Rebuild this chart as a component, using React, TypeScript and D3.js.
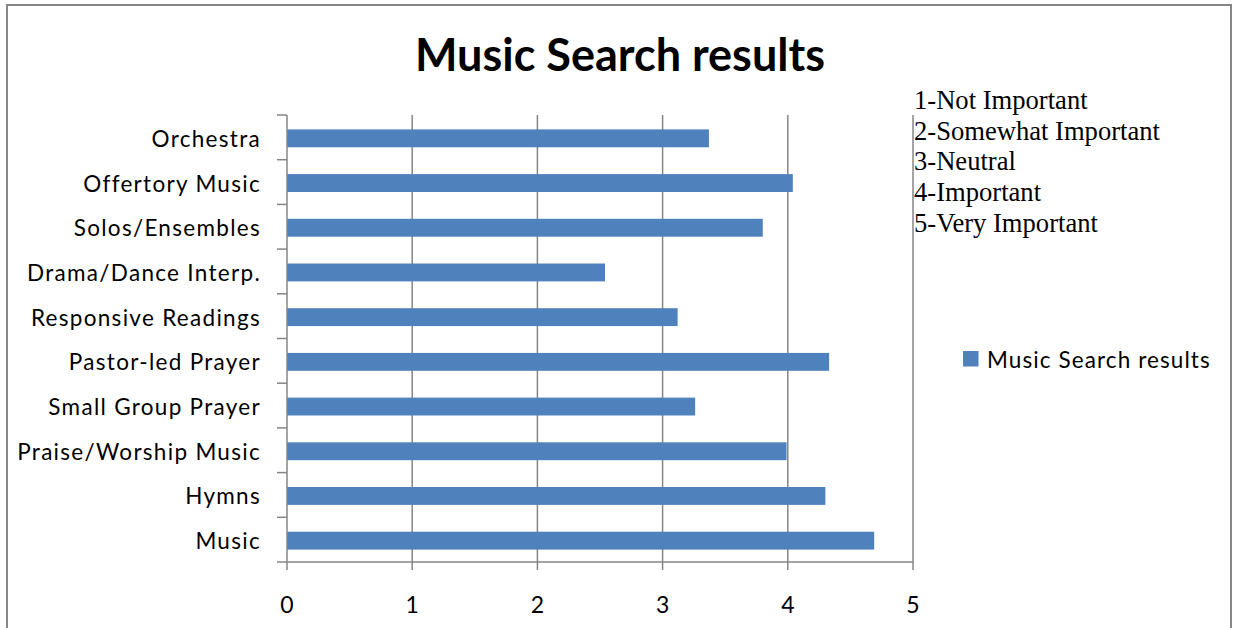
import React from "react";
import * as d3 from "d3";

const categories = [
  "Orchestra",
  "Offertory Music",
  "Solos/Ensembles",
  "Drama/Dance Interp.",
  "Responsive Readings",
  "Pastor-led Prayer",
  "Small Group Prayer",
  "Praise/Worship Music",
  "Hymns",
  "Music",
];
const values = [3.37, 4.04, 3.8, 2.54, 3.12, 4.33, 3.26, 3.99, 4.3, 4.69];
const xTicks = [0, 1, 2, 3, 4, 5];
const scaleNotes = [
  "1-Not Important",
  "2-Somewhat Important",
  "3-Neutral",
  "4-Important",
  "5-Very Important",
];
const title = "Music Search results";
const seriesName = "Music Search results";

const W = 1233;
const H = 628;
const plot = { left: 287, right: 913, top: 115, bottom: 562 };
const barColor = "#4F81BD";
const axisColor = "#868686";
const sans = "Lato, 'Open Sans', sans-serif";
const serif = "'Liberation Serif', 'Times New Roman', serif";

export default function App() {
  const x = d3.scaleLinear().domain([0, 5]).range([plot.left, plot.right]);
  const y = d3
    .scaleBand<string>()
    .domain(categories)
    .range([plot.top, plot.bottom])
    .paddingInner(0.6)
    .paddingOuter(0.3);
  const step = y.step();
  const boundaries = d3.range(categories.length + 1).map((i) => plot.top + i * step);

  return (
    <svg
      width={W}
      height={H}
      viewBox={`0 0 ${W} ${H}`}
      style={{ position: "absolute", left: 0, top: 0, background: "#fff" }}
    >
      <rect x={0} y={0} width={W} height={H} fill="#fff" />
      {/* outer chart border */}
      <rect x={7} y={5} width={1224} height={H + 10} fill="none" stroke={axisColor} strokeWidth={2} />

      {/* title */}
      <text
        x={620}
        y={71}
        textAnchor="middle"
        fontFamily={sans}
        fontWeight="bold"
        fontSize={45}
        fill="#000"
      >
        {title}
      </text>

      {/* vertical gridlines */}
      {xTicks.slice(1).map((t) => (
        <line
          key={"g" + t}
          x1={x(t)}
          x2={x(t)}
          y1={plot.top}
          y2={plot.bottom}
          stroke={axisColor}
          strokeWidth={1.5}
        />
      ))}

      {/* bars */}
      {categories.map((c, i) => (
        <rect
          key={c}
          x={x(0)}
          y={(y(c) ?? 0) + 1}
          width={x(values[i]) - x(0)}
          height={y.bandwidth()}
          fill={barColor}
        />
      ))}

      {/* left axis */}
      <line x1={plot.left} x2={plot.left} y1={plot.top} y2={plot.bottom} stroke={axisColor} strokeWidth={1.5} />
      {boundaries.map((b, i) => (
        <line key={"lt" + i} x1={plot.left - 10} x2={plot.left} y1={b} y2={b} stroke={axisColor} strokeWidth={1.5} />
      ))}
      {categories.map((c) => (
        <text
          key={"l" + c}
          x={261}
          y={(y(c) ?? 0) + y.bandwidth() / 2 + 9.5}
          textAnchor="end"
          fontFamily={sans}
          fontSize={22.5}
          letterSpacing={1.3}
          fill="#000"
        >
          {c}
        </text>
      ))}

      {/* bottom axis */}
      <line x1={plot.left} x2={plot.right} y1={plot.bottom} y2={plot.bottom} stroke={axisColor} strokeWidth={1.5} />
      {xTicks.map((t) => (
        <g key={"bt" + t}>
          <line x1={x(t)} x2={x(t)} y1={plot.bottom} y2={plot.bottom + 8} stroke={axisColor} strokeWidth={1.5} />
          <text
            x={x(t)}
            y={613}
            textAnchor="middle"
            fontFamily={sans}
            fontSize={23}
            fill="#000"
          >
            {t}
          </text>
        </g>
      ))}

      {/* scale notes */}
      {scaleNotes.map((n, i) => (
        <text key={n} x={914} y={109 + i * 30.7} fontFamily={serif} fontSize={26.6} fill="#000">
          {n}
        </text>
      ))}

      {/* legend */}
      <rect x={963} y={351} width={15.5} height={15.5} fill={barColor} />
      <text x={987} y={368} fontFamily={sans} fontSize={22.5} letterSpacing={1.1} fill="#000">
        {seriesName}
      </text>
    </svg>
  );
}
